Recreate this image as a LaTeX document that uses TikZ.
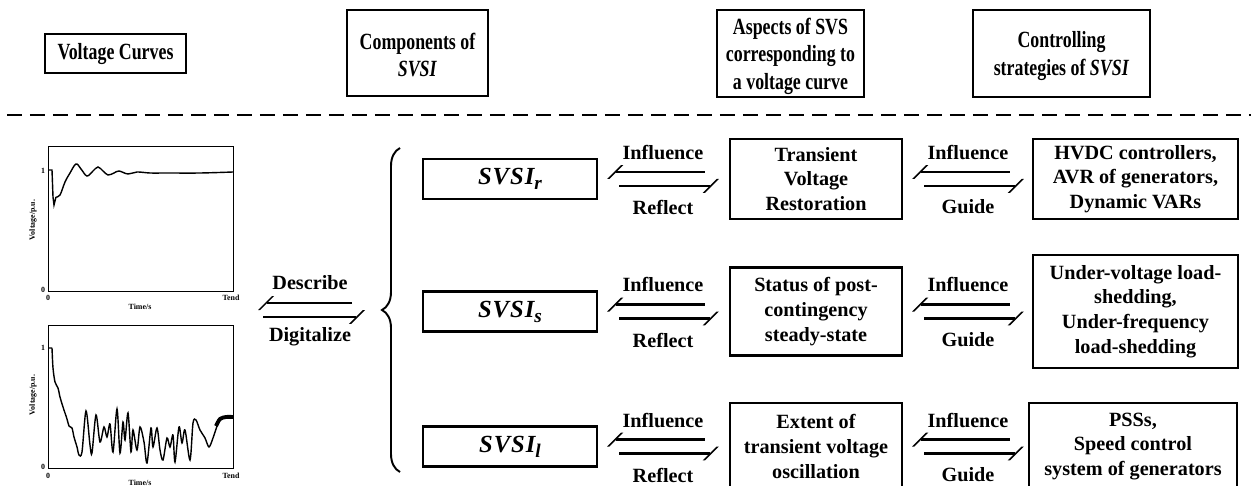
\documentclass[tikz,border=0pt]{standalone}
\usepackage{fontspec}
\setmainfont{Liberation Serif}
\newfontfamily\headfont[FakeStretch=0.77]{Liberation Serif}
\newfontfamily\svsifont[LetterSpace=4]{Liberation Serif}
\usepackage{tikz}
\usetikzlibrary{arrows.meta, decorations.pathreplacing, calc}
\newcommand{\svsi}[1]{{\svsifont\bfseries\itshape SVSI\raisebox{-0.45ex}{\fontsize{11}{11}\selectfont #1}}}

\begin{document}
\begin{tikzpicture}[
    x=0.02cm, y=-0.02cm,
    box/.style={draw, line width=1.4pt, align=center, inner sep=0pt, font=\fontsize{11.5}{14}\selectfont\bfseries},
    head/.style={draw, line width=1.5pt, inner sep=0pt},
    headtxt/.style={align=center, inner sep=0pt, font=\headfont\fontsize{13.2}{15.6}\selectfont\bfseries},
    idx/.style={draw, line width=1.4pt, inner sep=0pt, minimum width=3.48cm, minimum height=0.8cm, font=\fontsize{14}{14}\selectfont},
    lbl/.style={inner sep=0pt, font=\fontsize{11.5}{14}\selectfont\bfseries},
    harp/.style={line width=1.2pt, -{Bar[width=0.28cm, slant=1]}},
    tick/.style={inner sep=0pt, font=\fontsize{4.5}{5}\selectfont\bfseries},
    sep/.style={line width=1.6pt, dash pattern=on 0.3cm off 0.16cm}
]
    \useasboundingbox (0,0) rectangle (1251,486);

    % Headings
    \node[head, minimum width=2.82cm, minimum height=0.78cm] (hcurves) at (115.5,53.5) {};
    \node[headtxt] (hcurvesT) at (115.5,54.5) {Voltage Curves};
    \node[head, minimum width=2.82cm, minimum height=1.72cm] (hcomp) at (417.5,53) {};
    \node[headtxt] (hcompT) at (417.5,55) {Components of\\\textit{SVSI}};
    \node[head, minimum width=2.94cm, minimum height=1.74cm] (haspect) at (790.5,53.5) {};
    \node[headtxt] (haspectT) at (790.5,56) {Aspects of SVS\\corresponding to\\a voltage curve};
    \node[head, minimum width=3.54cm, minimum height=1.74cm] (hctrl) at (1061.5,53.5) {};
    \node[headtxt] (hctrlT) at (1061.5,56) {Controlling\\strategies of \textit{SVSI}};

    \draw[sep] (7,115) -- (1251,115);

    % Voltage curves
    \draw[line width=0.5pt] (48,146) rectangle (233,291);
    \draw[line width=0.8pt] (48,170) -- (52,170) -- (53,197) -- (54,205) -- (56,197)
        plot[smooth, tension=0.6] coordinates {(56,197) (60,195) (65,182) (70,173) (76,164) (81,169) (87,176) (93,171) (98,167) (103,171) (108,175) (114,173) (119,171) (128,174) (137,172) (150,173) (167,173) (200,173) (233,172)};
    \node[tick] (c1one) at (43,171) {1};
    \node[tick] (c1zero) at (43,290) {0};
    \node[tick] (c1t0) at (48,298) {0};
    \node[tick] (c1tend) at (231,298) {Tend};
    \node[tick] (c1time) at (140,307) {Time/s};
    \node[tick, rotate=90] (c1volt) at (33,220) {Voltage/p.u.};

    \draw[line width=0.5pt] (48,325) rectangle (233,468);
    \draw[line width=0.8pt] (48,348) -- (52,348)
        plot[smooth, tension=0.5] coordinates {(52,348) (53,368) (55,382) (58,388) (60,397) (63,407) (67,419) (69,426) (72,428) (74,437) (77,447) (79,455)
        (82,452) (86,411) (90,445) (92,453) (96,415) (100,442) (104,427) (107,437) (110,424) (113,452) (117,409) (120,453) (123,422) (125,440)
        (128,413) (131,452) (133,430) (137,450) (140,427) (144,442) (147,463) (151,428) (153,447) (157,428) (160,450) (163,460) (167,438)
        (170,447) (173,435) (175,462) (179,427) (182,443) (185,430) (190,460) (193,423) (196,420) (200,430) (205,438) (209,447) (213,438) (218,423)};
    \draw[line width=2.2pt] plot[smooth] coordinates {(216,426) (220,419) (226,417) (233,417)};
    \node[tick] (c2one) at (43,348) {1};
    \node[tick] (c2zero) at (43,467) {0};
    \node[tick] (c2t0) at (48,476) {0};
    \node[tick] (c2tend) at (231,476) {Tend};
    \node[tick] (c2time) at (140,483) {Time/s};
    \node[tick, rotate=90] (c2volt) at (33,395) {Voltage/p.u.};

    % Describe / Digitalize
    \coordinate (curves) at (263,310);
    \coordinate (brace) at (358,310);
    \draw[harp] ([xshift=-0.12cm,yshift=0.14cm]brace) -- ([xshift=0.04cm,yshift=0.14cm]curves);
    \draw[harp] ([yshift=-0.14cm]curves) -- ([yshift=-0.14cm]brace);
    \node[lbl] (describe) at (310,283) {Describe};
    \node[lbl] (digital) at (310,337) {Digitalize};

    \draw[line width=1.1pt, decorate, decoration={brace, amplitude=0.36cm}] (400,472) -- (400,148);

    % Components
    \node[idx] (svsir) at (510,179) {\svsi{r}};
    \node[idx] (svsis) at (510,311.5) {\svsi{s}};
    \node[idx] (svsil) at (510,446.5) {\svsi{l}};

    % Aspects
    \node[box, minimum width=3.44cm, minimum height=1.6cm] (asp1) at (816,179) {Transient\\Voltage\\Restoration};
    \node[box, minimum width=3.44cm, minimum height=1.76cm] (asp2) at (816,311.5) {Status of post-\\contingency\\steady-state};
    \node[box, minimum width=3.44cm, minimum height=1.74cm] (asp3) at (816,446.5) {Extent of\\transient voltage\\oscillation};

    % Strategies
    \node[box, minimum width=4.1cm, minimum height=1.6cm] (ctl1) at (1135.5,179) {HVDC controllers,\\AVR of generators,\\Dynamic VARs};
    \node[box, minimum width=4.1cm, minimum height=2.26cm] (ctl2) at (1135.5,311.5) {Under-voltage load-\\shedding,\\Under-frequency\\load-shedding};
    \node[box, minimum width=4.16cm, minimum height=1.74cm] (ctl3) at (1133,446.5) {PSSs,\\Speed control\\system of generators};

    % Influence / Reflect
    \draw[harp] ([xshift=-0.48cm,yshift=0.14cm]asp1.west) -- ([xshift=0.32cm,yshift=0.14cm]svsir.east);
    \draw[harp] ([xshift=0.42cm,yshift=-0.14cm]svsir.east) -- ([xshift=-0.34cm,yshift=-0.14cm]asp1.west);
    \node[lbl] (inf1) at (663,153) {Influence};
    \node[lbl] (ref1) at (663,207) {Reflect};

    \draw[harp] ([xshift=-0.48cm,yshift=0.14cm]asp2.west) -- ([xshift=0.32cm,yshift=0.14cm]svsis.east);
    \draw[harp] ([xshift=0.42cm,yshift=-0.14cm]svsis.east) -- ([xshift=-0.34cm,yshift=-0.14cm]asp2.west);
    \node[lbl] (inf2) at (663,285) {Influence};
    \node[lbl] (ref2) at (663,340) {Reflect};

    \draw[harp] ([xshift=-0.48cm,yshift=0.14cm]asp3.west) -- ([xshift=0.32cm,yshift=0.14cm]svsil.east);
    \draw[harp] ([xshift=0.42cm,yshift=-0.14cm]svsil.east) -- ([xshift=-0.34cm,yshift=-0.14cm]asp3.west);
    \node[lbl] (inf3) at (663,421) {Influence};
    \node[lbl] (ref3) at (663,475) {Reflect};

    % Influence / Guide
    \draw[harp] ([xshift=-0.44cm,yshift=0.14cm]ctl1.west) -- ([xshift=0.32cm,yshift=0.14cm]asp1.east);
    \draw[harp] ([xshift=0.42cm,yshift=-0.14cm]asp1.east) -- ([xshift=-0.30cm,yshift=-0.14cm]ctl1.west);
    \node[lbl] (inf4) at (968,153) {Influence};
    \node[lbl] (gui1) at (968,207) {Guide};

    \draw[harp] ([xshift=-0.44cm,yshift=0.14cm]ctl2.west) -- ([xshift=0.32cm,yshift=0.14cm]asp2.east);
    \draw[harp] ([xshift=0.42cm,yshift=-0.14cm]asp2.east) -- ([xshift=-0.30cm,yshift=-0.14cm]ctl2.west);
    \node[lbl] (inf5) at (968,285) {Influence};
    \node[lbl] (gui2) at (968,340) {Guide};

    \draw[harp] ([xshift=-0.36cm,yshift=0.14cm]ctl3.west) -- ([xshift=0.32cm,yshift=0.14cm]asp3.east);
    \draw[harp] ([xshift=0.42cm,yshift=-0.14cm]asp3.east) -- ([xshift=-0.22cm,yshift=-0.14cm]ctl3.west);
    \node[lbl] (inf6) at (968,421) {Influence};
    \node[lbl] (gui3) at (968,475) {Guide};

\end{tikzpicture}
\end{document}
